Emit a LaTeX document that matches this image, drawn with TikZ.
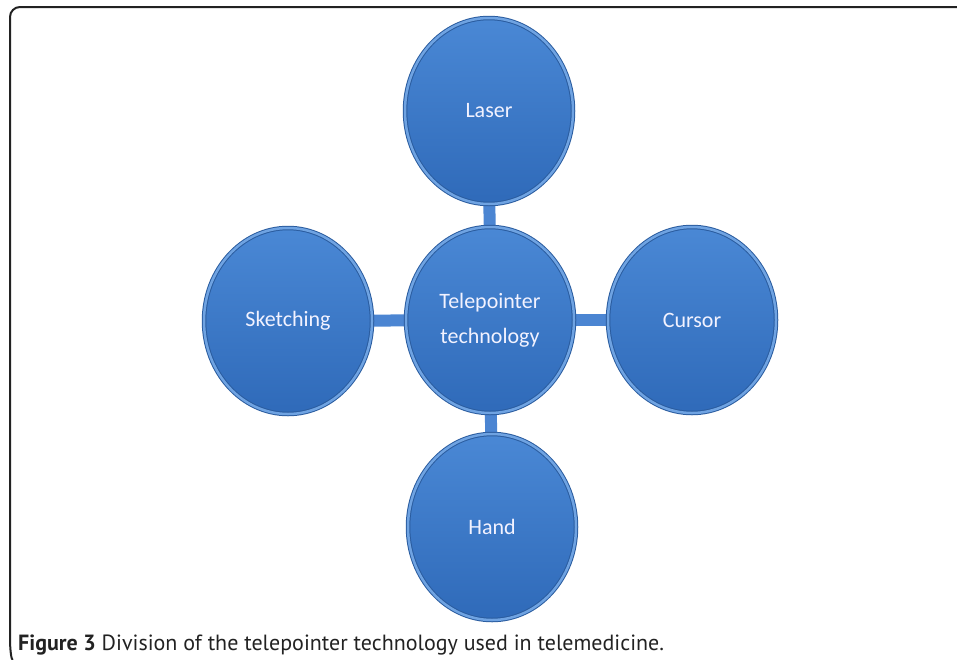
\documentclass[tikz,border=0pt]{standalone}
\usepackage{fontspec}
\newfontfamily\calibri{Carlito}
\newfontfamily\capfont{PT Sans}
\usetikzlibrary{shapes.geometric, backgrounds}

\definecolor{topblue}{HTML}{4A88D5}
\definecolor{bottomblue}{HTML}{2F6AB9}
\definecolor{rimblue}{HTML}{2A5C9F}
\definecolor{glowblue}{HTML}{6FA3E2}
\definecolor{barblue}{HTML}{4B85D2}
\definecolor{framegray}{HTML}{222222}

\begin{document}
\begin{tikzpicture}[x=1pt,y=-1pt]

        % Setup the style for the circles
        \tikzset{node style/.style={ellipse,
                                    minimum width=168pt,
                                    minimum height=186pt,
                                    inner sep=0pt,
                                    draw=rimblue,
                                    line width=1pt,
                                    double=glowblue,
                                    double distance=2.5pt,
                                    top color=topblue,
                                    bottom color=bottomblue,
                                    text=white!95!blue,
                                    align=center,
                                    font=\calibri\fontsize{22}{35}\selectfont},
                 link/.style={line width=12pt, barblue}}

\useasboundingbox (0,0) rectangle (957,659);

% The frame round the figure
\draw[framegray, line width=2pt, rounded corners=10pt]
    (960,7) -- (10,7) -- (10,650) to[out=90,in=-120] (13,659);

% Add the circles
\node[node style] at (490,320) (t) {Telepointer\\technology};

\node[node style] at (489,111) (l) {Laser};

\node[node style] at (288,321) (s) {Sketching};

\node[node style] at (692,320) (c) {Cursor};

\node[node style] at (492,527) (h) {Hand};

	 \begin{scope}[on background layer]
	  \draw[link] (t.center) -- (l.center);
		\draw[link] (t.center) -- (s.center);
		\draw[link] (t.center) -- (c.center);
		\draw[link] (t.center) -- (h.center);
	 \end{scope}

% Caption
\node[anchor=base west, inner sep=0pt, text=framegray,
      font=\capfont\fontsize{22}{26}\selectfont] at (18,650) (cap)
    {\textbf{Figure 3} Division of the telepointer technology used in telemedicine.};
\end{tikzpicture}
\end{document}
